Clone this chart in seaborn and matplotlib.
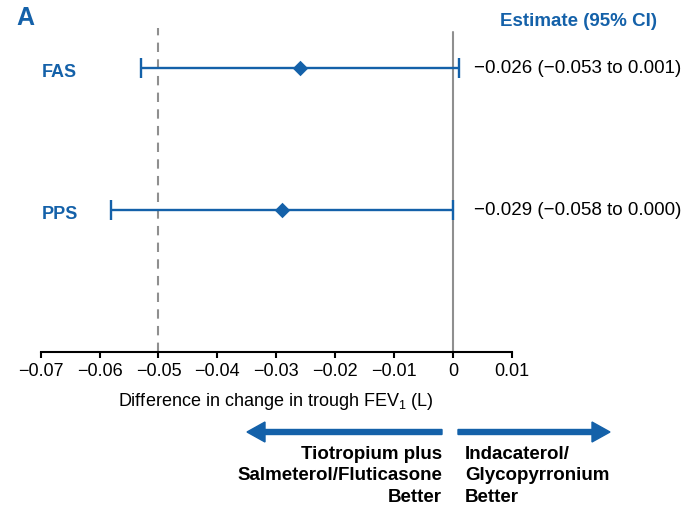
import numpy as np
import pandas as pd
import matplotlib
matplotlib.use("Agg")
import matplotlib.pyplot as plt
import matplotlib.transforms as mtransforms
from matplotlib.patches import FancyArrow
import seaborn as sns

# ---------------- data ----------------
populations = ["FAS", "PPS"]
estimates = [-0.026, -0.029]
ci_lower = [-0.053, -0.058]
ci_upper = [0.001, 0.000]
ci_labels = ["\u22120.026 (\u22120.053 to 0.001)", "\u22120.029 (\u22120.058 to 0.000)"]
x_ticks = [-0.07, -0.06, -0.05, -0.04, -0.03, -0.02, -0.01, 0.0, 0.01]
x_tick_labels = ["\u22120.07", "\u22120.06", "\u22120.05", "\u22120.04", "\u22120.03",
                 "\u22120.02", "\u22120.01", "0", "0.01"]
noninferiority_margin = -0.05
left_label = "Tiotropium plus\nSalmeterol/Fluticasone\nBetter"
right_label = "Indacaterol/\nGlycopyrronium\nBetter"

BLUE = "#1461a9"
GREY = "#8f8f8f"

sns.set_theme(style="white")
plt.rcParams["font.family"] = ["Liberation Sans", "DejaVu Sans"]
plt.rcParams["mathtext.fontset"] = "custom"
plt.rcParams["mathtext.rm"] = "Liberation Sans"
plt.rcParams["mathtext.it"] = "Liberation Sans:italic"
plt.rcParams["mathtext.bf"] = "Liberation Sans:bold"

W, H = 687, 515
fig = plt.figure(figsize=(W / 100, H / 100), dpi=100)
fig.patch.set_facecolor("white")

def fx(px):
    return px / W

def fy(py):
    return 1 - py / H

ax = fig.add_axes([fx(40.7), fy(352), 471 / W, 324 / H])
ax.set_facecolor("white")

df = pd.DataFrame({
    "population": populations,
    "estimate": estimates,
    "lower": ci_lower,
    "upper": ci_upper,
})
df["pos"] = np.arange(len(df))

# reference lines
ax.axvline(noninferiority_margin, color=GREY, lw=1.5, ls=(0, (4.5, 3.5)), zorder=1)
ax.axvline(0, ymax=0.988, color=GREY, lw=1.5, zorder=1)

# confidence intervals
ax.errorbar(df["estimate"], df["pos"],
            xerr=[df["estimate"] - df["lower"], df["upper"] - df["estimate"]],
            fmt="none", ecolor=BLUE, elinewidth=1.7, capsize=7.2, capthick=1.7, zorder=3)

# point estimates
sns.scatterplot(data=df, x="estimate", y="pos", marker="D", s=62, color=BLUE,
                edgecolor=BLUE, linewidth=0, ax=ax, zorder=4, legend=False)

ax.set_xlim(-0.07, 0.01)
ax.set_ylim(2.0, -0.282)
ax.set_yticks([])
ax.set_ylabel("")
ax.set_xticks(x_ticks)
ax.set_xticklabels(x_tick_labels)
ax.tick_params(axis="x", bottom=True, direction="out", length=4.5, width=1.5,
               color="black", labelsize=13, pad=3.5, labelcolor="black")
for side in ["left", "top", "right"]:
    ax.spines[side].set_visible(False)
ax.spines["bottom"].set_color("black")
ax.spines["bottom"].set_linewidth(1.5)
ax.grid(False)
ax.set_xlabel("Difference in change in trough FEV$_1$ (L)", fontsize=13, labelpad=8,
              color="black")

# row labels and CI texts
trans = mtransforms.blended_transform_factory(ax.transAxes, ax.transData)
for i, row in df.iterrows():
    ax.text(0.003, row["pos"] + 0.03, row["population"], transform=trans,
            ha="left", va="center", fontsize=13, fontweight="bold", color=BLUE)
    ax.text(0.921, row["pos"], ci_labels[i], transform=trans, ha="left", va="center",
            fontsize=13.5, color="black", clip_on=False)

fig.text(fx(578), fy(21), "Estimate (95% CI)", ha="center", va="center",
         fontsize=13.5, fontweight="bold", color=BLUE)
fig.text(fx(16), fy(18), "A", ha="left", va="center", fontsize=18,
         fontweight="bold", color=BLUE)

# direction arrows
arrow_y = fy(432)
fig.patches.append(FancyArrow(fx(442), arrow_y, fx(247) - fx(442), 0,
                              width=5 / H, head_width=20 / H, head_length=18 / W,
                              length_includes_head=True, color=BLUE,
                              transform=fig.transFigure, figure=fig))
fig.patches.append(FancyArrow(fx(458), arrow_y, fx(610) - fx(458), 0,
                              width=5 / H, head_width=20 / H, head_length=18 / W,
                              length_includes_head=True, color=BLUE,
                              transform=fig.transFigure, figure=fig))

fig.text(fx(442), fy(476), left_label, ha="right", va="center", multialignment="right",
         fontsize=13.5, fontweight="bold", color="black", linespacing=1.36)
fig.text(fx(465), fy(476), right_label, ha="left", va="center", multialignment="left",
         fontsize=13.5, fontweight="bold", color="black", linespacing=1.36)

fig.savefig("out.png", dpi=100, facecolor="white")
